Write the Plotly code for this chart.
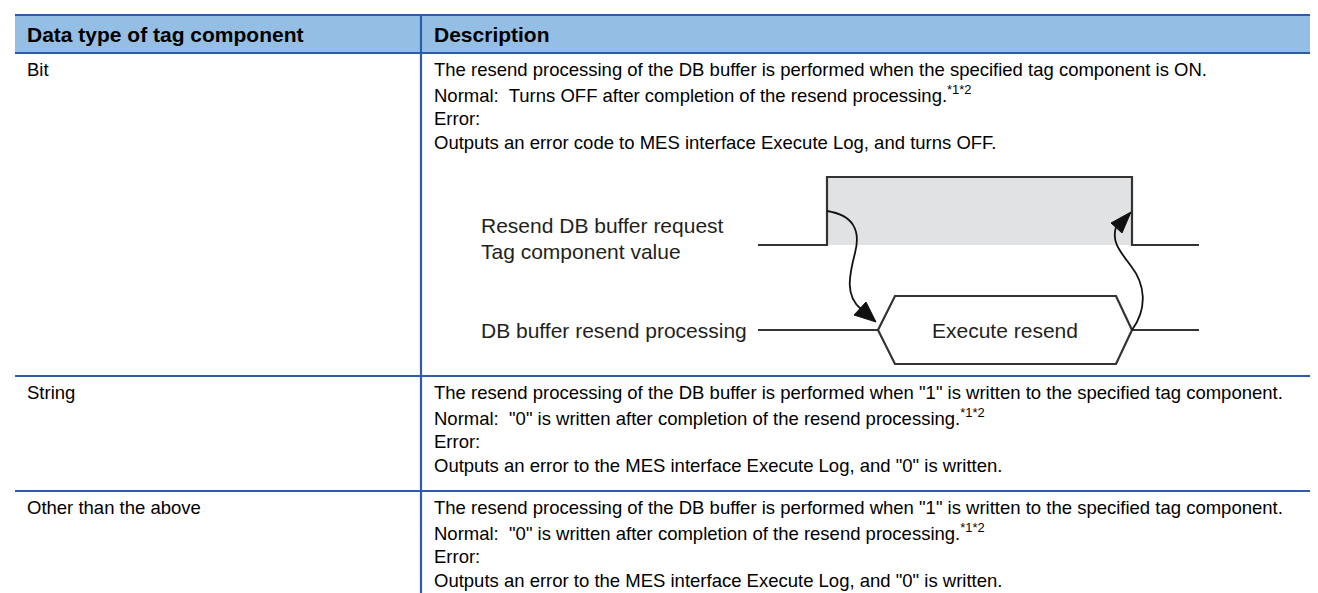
import plotly.graph_objects as go

# ---------------- data (text content) ----------------
headers = ["Data type of tag component", "Description"]
categories = ["Bit", "String", "Other than the above"]
desc_bit = [
    "The resend processing of the DB buffer is performed when the specified tag component is ON.",
    "Normal:\u00a0 Turns OFF after completion of the resend processing.<sup>*1*2</sup>",
    "Error:",
    "Outputs an error code to MES interface Execute Log, and turns OFF.",
]
desc_string = [
    "The resend processing of the DB buffer is performed when \"1\" is written to the specified tag component.",
    "Normal:\u00a0 \"0\" is written after completion of the resend processing.<sup>*1*2</sup>",
    "Error:",
    "Outputs an error to the MES interface Execute Log, and \"0\" is written.",
]
desc_other = list(desc_string)
descriptions = [desc_bit, desc_string, desc_other]
signal_label = ["Resend DB buffer request", "Tag component value"]
process_label = "DB buffer resend processing"
box_label = "Execute resend"

# ---------------- layout constants ----------------
W, H = 1318, 593
FONT = "Liberation Sans, Arial, Helvetica, sans-serif"
BLUE = "#2d5ca8"
HEAD_FILL = "#94bee4"
DARK = "#333333"
GRAY = "#e1e2e4"

left, col_x, right = 7, 413, W
head_top, head_bot = 7, 45
row_tops = [45, 368, 483]
line_gap = 24.5
first_off = 16
body_size = 18.5

fig = go.Figure()
shapes = []
ann = []

# header band
shapes.append(dict(type="rect", x0=left, x1=right, y0=head_top, y1=head_bot,
                   fillcolor=HEAD_FILL, line=dict(width=0), layer="below"))
for yy in [head_top, head_bot] + row_tops[1:]:
    shapes.append(dict(type="line", x0=left, x1=right, y0=yy, y1=yy,
                       line=dict(color=BLUE, width=2.2)))
shapes.append(dict(type="line", x0=col_x, x1=col_x, y0=head_top, y1=H + 5,
                   line=dict(color=BLUE, width=2.2)))

# header text
hy = (head_top + head_bot) / 2
ann.append(dict(x=17, y=hy, text="<b>%s</b>" % headers[0], showarrow=False,
                xanchor="left", yanchor="middle", font=dict(size=21, color="#000", family=FONT)))
ann.append(dict(x=col_x + 11, y=hy, text="<b>%s</b>" % headers[1], showarrow=False,
                xanchor="left", yanchor="middle", font=dict(size=21, color="#000", family=FONT)))

# rows
for i, (cat, lines) in enumerate(zip(categories, descriptions)):
    y0 = row_tops[i] + first_off
    ann.append(dict(x=17, y=y0, text=cat, showarrow=False, xanchor="left", yanchor="middle",
                    font=dict(size=body_size, color="#000", family=FONT)))
    for k, t in enumerate(lines):
        ann.append(dict(x=col_x + 11, y=y0 + k * line_gap, text=t, showarrow=False,
                        xanchor="left", yanchor="middle",
                        font=dict(size=body_size, color="#000", family=FONT)))

# ---------------- timing diagram ----------------
x_start, x_rise, x_fall, x_end = 750, 819, 1124, 1191
y_hi, y_lo = 169, 237
shapes.append(dict(type="rect", x0=x_rise, x1=x_fall, y0=y_hi, y1=y_lo,
                   fillcolor=GRAY, line=dict(width=0), layer="below"))
shapes.append(dict(type="path",
                   path=f"M {x_start} {y_lo} L {x_rise} {y_lo} L {x_rise} {y_hi} L {x_fall} {y_hi} L {x_fall} {y_lo} L {x_end} {y_lo}",
                   line=dict(color=DARK, width=2.2)))
# hexagon
y_mid, y_top, y_bot = 322, 288, 356
hx = [870, 887, 1108, 1124]
shapes.append(dict(type="path",
                   path=f"M {hx[0]} {y_mid} L {hx[1]} {y_top} L {hx[2]} {y_top} L {hx[3]} {y_mid} L {hx[2]} {y_bot} L {hx[1]} {y_bot} Z",
                   line=dict(color=DARK, width=2.2), fillcolor="rgba(0,0,0,0)"))
shapes.append(dict(type="line", x0=x_start, x1=hx[0], y0=y_mid, y1=y_mid, line=dict(color=DARK, width=2)))
shapes.append(dict(type="line", x0=hx[3], x1=x_end, y0=y_mid, y1=y_mid, line=dict(color=DARK, width=2)))

# curved arrows
shapes.append(dict(type="path",
                   path="M 819 203 C 845 207, 853 222, 847 245 C 841 268, 837 288, 853 301",
                   line=dict(color="#111", width=1.8)))
shapes.append(dict(type="path", path="M 868 314 L 846 307 L 858 294 Z",
                   fillcolor="#111", line=dict(color="#111", width=1)))
shapes.append(dict(type="path",
                   path="M 1124 322 C 1140 300, 1137 276, 1123 258 C 1109 240, 1104 232, 1108 219",
                   line=dict(color="#111", width=1.8)))
shapes.append(dict(type="path", path="M 1123 204 L 1103 215 L 1114 225 Z",
                   fillcolor="#111", line=dict(color="#111", width=1)))

# diagram labels
for k, t in enumerate(signal_label):
    ann.append(dict(x=471, y=217 + k * 26, text=t, showarrow=False, xanchor="left", yanchor="middle",
                    font=dict(size=21, color="#231f20", family=FONT)))
ann.append(dict(x=471, y=y_mid, text=process_label, showarrow=False, xanchor="left", yanchor="middle",
                font=dict(size=21, color="#231f20", family=FONT)))
ann.append(dict(x=(hx[0] + hx[3]) / 2, y=y_mid, text=box_label, showarrow=False, xanchor="center",
                yanchor="middle", font=dict(size=21, color="#231f20", family=FONT)))

fig.update_layout(
    width=W, height=H, autosize=False,
    margin=dict(l=0, r=0, t=0, b=0),
    paper_bgcolor="white", plot_bgcolor="white",
    xaxis=dict(range=[0, W], visible=False, fixedrange=True),
    yaxis=dict(range=[H, 0], visible=False, fixedrange=True),
    shapes=shapes, annotations=ann, showlegend=False,
)
fig.write_html("out.html", config={"displayModeBar": False})
